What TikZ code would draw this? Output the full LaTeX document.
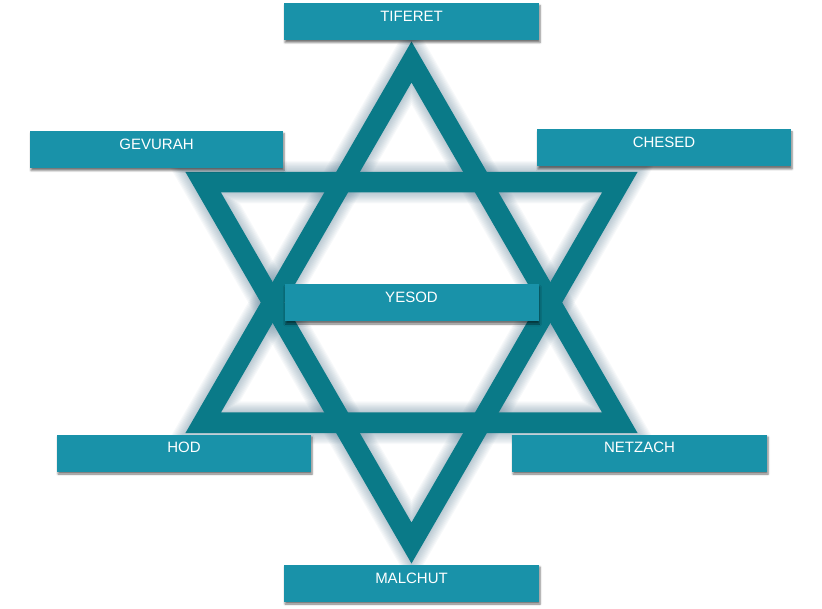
\documentclass[tikz,border=0pt]{standalone}
\usepackage{fontspec}
\setmainfont{Liberation Sans}
\usetikzlibrary{shadows.blur}
\definecolor{starcol}{RGB}{10,122,136}
\definecolor{boxcol}{RGB}{25,146,169}
\definecolor{shadecol}{RGB}{70,110,135}
\begin{document}
\begin{tikzpicture}[x=1pt,y=-1pt,
  lbl/.style={fill=boxcol, minimum width=255pt, minimum height=37pt, inner sep=0pt,
    text=white, font=\fontsize{15}{15}\selectfont, text height=7.6pt, text depth=7.6pt,
    blur shadow={shadow xshift=1pt, shadow yshift=-2.5pt, shadow blur radius=2pt, shadow opacity=55}},
  ring/.style={draw=starcol, line width=20.5pt, line join=miter, miter limit=10}]
\useasboundingbox (0,0) rectangle (822,609);
% up triangle (centre line of the band)
\coordinate (u1) at (411.5,62);
\coordinate (u2) at (203.2,422.75);
\coordinate (u3) at (619.8,422.75);
% down triangle (centre line of the band)
\coordinate (d1) at (203.2,182.25);
\coordinate (d2) at (619.8,182.25);
\coordinate (d3) at (411.5,543);
% soft shadows
\begin{scope}[shift={(5,3)}]
\foreach \k in {1,...,10}{
  \draw[shadecol, opacity=0.045, line width={20.5pt+2.2pt*\k}, line join=miter, miter limit=10]
    (u1) -- (u2) -- (u3) -- cycle;
  \draw[shadecol, opacity=0.045, line width={20.5pt+2.2pt*\k}, line join=miter, miter limit=10]
    (d1) -- (d2) -- (d3) -- cycle;
}
\end{scope}
% rings
\draw[ring] (u1) -- (u2) -- (u3) -- cycle;
\draw[ring] (d1) -- (d2) -- (d3) -- cycle;
% labels
\node[lbl] (tif) at (411.5,21.5) {TIFERET};
\node[lbl, minimum width=253pt] (gev) at (156.5,149.5) {GEVURAH};
\node[lbl, minimum width=254pt] (che) at (664,148) {CHESED};
\node[lbl, minimum width=254pt] (yes) at (411.5,303) {YESOD};
\node[lbl, minimum width=254pt] (hod) at (184,453) {HOD};
\node[lbl] (net) at (639.5,453) {NETZACH};
\node[lbl] (mal) at (411.5,583) {MALCHUT};
\end{tikzpicture}
\end{document}
